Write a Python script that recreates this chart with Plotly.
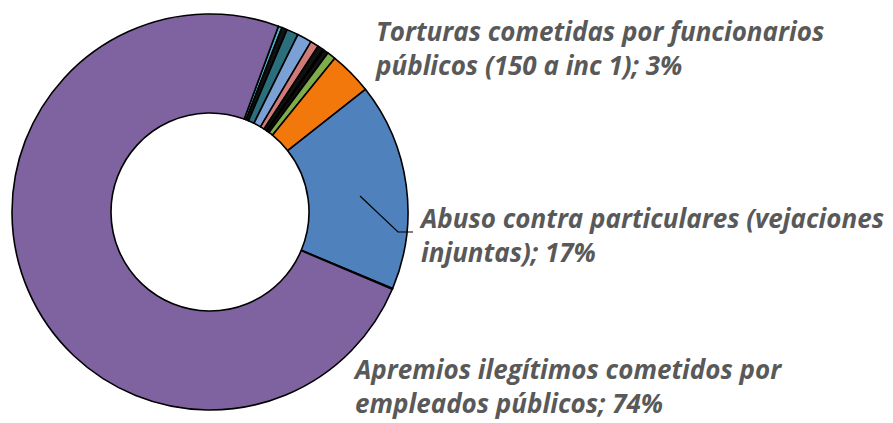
import plotly.graph_objects as go

# Slice shares (percent), clockwise from the small slices after the big purple one
labels = ["Cat A", "Cat B", "Cat C", "Cat D", "Cat E", "Cat F", "Cat G", "Cat H", "Cat I",
          "Torturas cometidas por funcionarios públicos (150 a inc 1)",
          "Abuso contra particulares (vejaciones injuntas)",
          "Cat J",
          "Apremios ilegítimos cometidos por empleados públicos"]
values = [0.31, 0.44, 0.95, 1.2, 0.67, 0.47, 0.1, 0.39, 0.7, 3.5, 16.9, 0.06, 74.0]
colors = ["#4BACC6", "#111111", "#2B6E7C", "#7BA0D4", "#D07B78", "#111111", "#F79646",
          "#111111", "#7FAD4A", "#F2780C", "#4F81BD", "#111111", "#7F63A1"]

label_texts = [
    "Torturas cometidas por funcionarios<br>públicos (150 a inc 1); 3%",
    "Abuso contra particulares (vejaciones<br>injuntas); 17%",
    "Apremios ilegítimos cometidos por<br>empleados públicos; 74%",
]

W, H = 893, 423
cx, cy, R = 210, 212, 198

fig = go.Figure(go.Pie(
    labels=labels, values=values, sort=False, direction="clockwise", rotation=20.2,
    hole=0.5, textinfo="none", hoverinfo="label+percent",
    marker=dict(colors=colors, line=dict(color="black", width=1.6)),
    domain=dict(x=[(cx - R) / W, (cx + R) / W], y=[(H - cy - R) / H, (H - cy + R) / H]),
    showlegend=False,
))

font = dict(family="Open Sans", size=26, color="#595959", weight="bold", style="italic")
pos = [(374, 48), (418, 235), (352, 386)]
for t, (px, py) in zip(label_texts, pos):
    fig.add_annotation(text=t, xref="paper", yref="paper", x=px / W, y=1 - py / H,
                       xanchor="left", yanchor="middle", align="left", showarrow=False,
                       font=font, borderpad=0)

# leader line for the blue slice label
pts = [(360, 196), (398, 232), (413, 232)]
path = "M " + " L ".join(f"{x / W},{1 - y / H}" for x, y in pts)
fig.add_shape(type="path", path=path, xref="paper", yref="paper",
              line=dict(color="black", width=1.2))

fig.update_layout(width=W, height=H, margin=dict(l=0, r=0, t=0, b=0),
                  paper_bgcolor="white", plot_bgcolor="white")
fig.write_html("out.html", config={"displayModeBar": False},
               post_script="document.body.style.margin='0';")
